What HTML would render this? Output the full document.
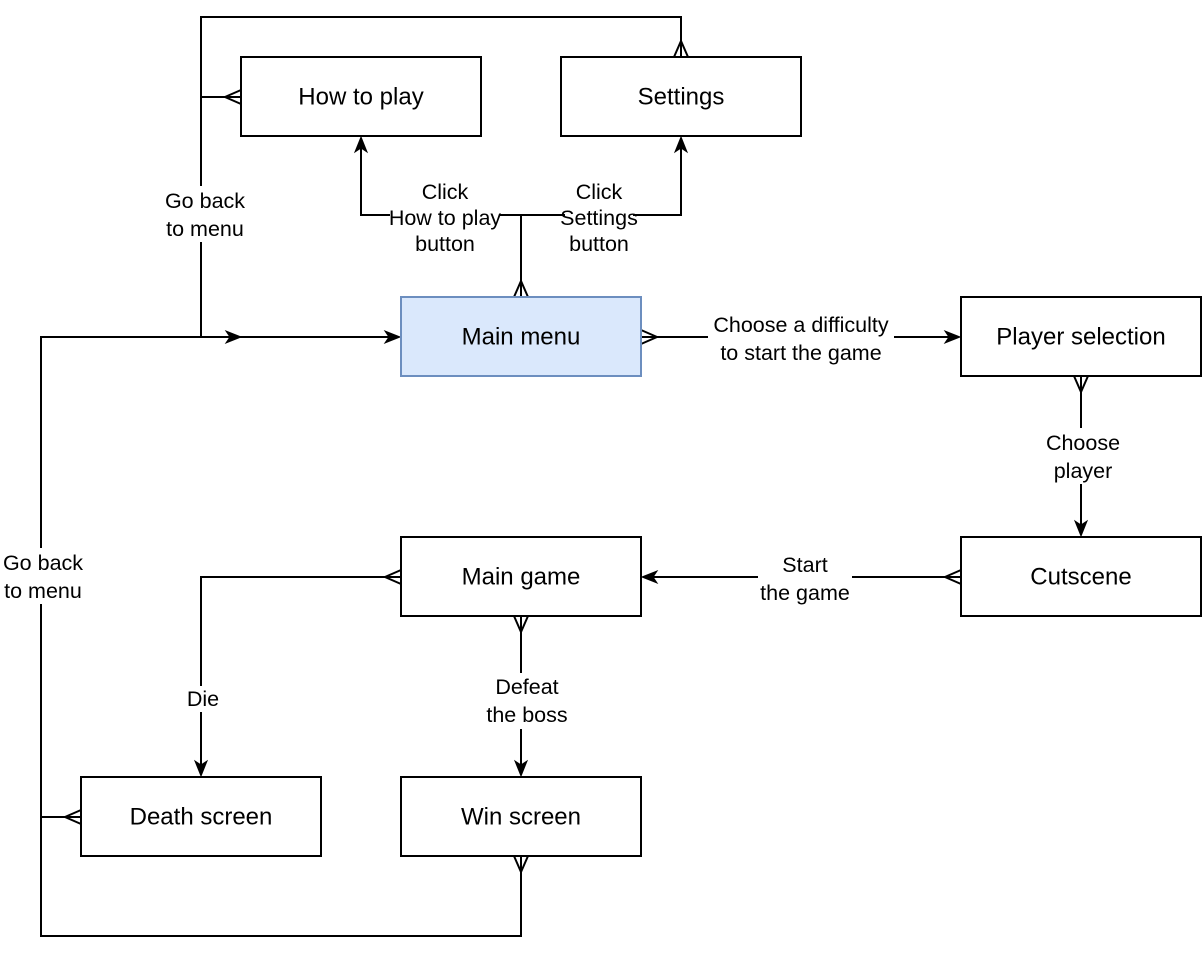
<!DOCTYPE html>
<html><head><meta charset="utf-8"><style>
html,body{margin:0;padding:0;background:#fff;}
svg{display:block;}
text{font-family:"Liberation Sans",Helvetica,Arial,sans-serif;fill:#000;}
.n{font-size:24px;text-anchor:middle;dominant-baseline:central;}
.l{font-size:21.5px;text-anchor:middle;dominant-baseline:central;}
</style></head><body>
<svg width="1202" height="956" viewBox="0 0 1202 956" xmlns="http://www.w3.org/2000/svg">
<g fill="none" stroke="#000" stroke-width="2">
  <polyline points="681,57 681,17 201,17 201,337"/>
  <line x1="241" y1="97" x2="201" y2="97"/>
  <polyline points="81,817 41,817 41,337 398,337"/>
  <polyline points="521,856 521,936 41,936 41,817"/>
  <polyline points="521,297 521,215 361,215 361,142"/>
  <polyline points="521,215 681,215 681,142"/>
  <line x1="641" y1="337" x2="955" y2="337"/>
  <line x1="1081" y1="376" x2="1081" y2="531"/>
  <line x1="961" y1="577" x2="647" y2="577"/>
  <polyline points="401,577 201,577 201,771"/>
  <line x1="521" y1="616" x2="521" y2="771"/>
  <path d="M674,57 L681,41 L688,57"/>
  <path d="M241,90 L225,97 L241,104"/>
  <path d="M514,297 L521,281 L528,297"/>
  <path d="M641,330 L657,337 L641,344"/>
  <path d="M1074,376 L1081,392 L1088,376"/>
  <path d="M961,570 L945,577 L961,584"/>
  <path d="M401,570 L385,577 L401,584"/>
  <path d="M514,616 L521,632 L528,616"/>
  <path d="M81,810 L65,817 L81,824"/>
  <path d="M514,856 L521,872 L528,856"/>
</g>
<g fill="#000" stroke="#000" stroke-width="1">
  <polygon points="361,137 355,152 361,148 367,152"/>
  <polygon points="681,137 675,152 681,148 687,152"/>
  <polygon points="400,337 385,331 389,337 385,343"/>
  <polygon points="241,337 226,331 230,337 226,343"/>
  <polygon points="960,337 945,331 949,337 945,343"/>
  <polygon points="1081,536 1075,521 1081,525 1087,521"/>
  <polygon points="642,577 657,571 653,577 657,583"/>
  <polygon points="201,776 195,761 201,765 207,761"/>
  <polygon points="521,776 515,761 521,765 527,761"/>
</g>
<g stroke="#000" stroke-width="2" fill="#fff">
  <rect x="241" y="57" width="240" height="79"/>
  <rect x="561" y="57" width="240" height="79"/>
  <rect x="961" y="297" width="240" height="79"/>
  <rect x="961" y="537" width="240" height="79"/>
  <rect x="401" y="537" width="240" height="79"/>
  <rect x="81" y="777" width="240" height="79"/>
  <rect x="401" y="777" width="240" height="79"/>
</g>
<rect x="401" y="297" width="240" height="79" fill="#dae8fc" stroke="#6c8ebf" stroke-width="2"/>
<text class="n" x="361" y="97">How to play</text>
<text class="n" x="681" y="97">Settings</text>
<text class="n" x="521" y="337">Main menu</text>
<text class="n" x="1081" y="337">Player selection</text>
<text class="n" x="1081" y="577">Cutscene</text>
<text class="n" x="521" y="577">Main game</text>
<text class="n" x="201" y="817">Death screen</text>
<text class="n" x="521" y="817">Win screen</text>
<g fill="#fff">
  <rect x="162" y="186" width="86" height="56"/>
  <rect x="0" y="548" width="86" height="56"/>
  <rect x="410" y="180" width="70" height="26"/>
  <rect x="390" y="206" width="110" height="52"/>
  <rect x="565" y="180" width="68" height="78"/>
  <rect x="708" y="312" width="186" height="54"/>
  <rect x="1043" y="428" width="80" height="56"/>
  <rect x="758" y="551" width="94" height="54"/>
  <rect x="185" y="686" width="36" height="26"/>
  <rect x="491" y="673" width="64" height="56"/>
</g>
<text class="l" x="205" y="201">Go back</text>
<text class="l" x="205" y="229">to menu</text>
<text class="l" x="43" y="563">Go back</text>
<text class="l" x="43" y="591">to menu</text>
<text class="l" x="445" y="192">Click</text>
<text class="l" x="445" y="218">How to play</text>
<text class="l" x="445" y="244">button</text>
<text class="l" x="599" y="192">Click</text>
<text class="l" x="599" y="218">Settings</text>
<text class="l" x="599" y="244">button</text>
<text class="l" x="801" y="325">Choose a difficulty</text>
<text class="l" x="801" y="353">to start the game</text>
<text class="l" x="1083" y="443">Choose</text>
<text class="l" x="1083" y="471">player</text>
<text class="l" x="805" y="565">Start</text>
<text class="l" x="805" y="593">the game</text>
<text class="l" x="203" y="699">Die</text>
<text class="l" x="527" y="687">Defeat</text>
<text class="l" x="527" y="715">the boss</text>
</svg>
</body></html>
